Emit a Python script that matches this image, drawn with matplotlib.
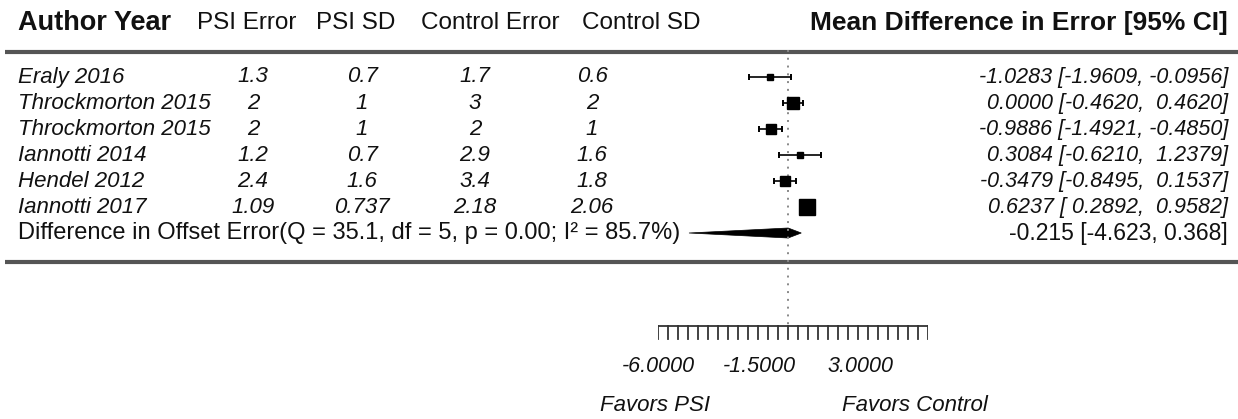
import matplotlib.pyplot as plt
import numpy as np

# ---------------- data ----------------
studies = ['Eraly 2016', 'Throckmorton 2015', 'Throckmorton 2015',
           'Iannotti 2014', 'Hendel 2012', 'Iannotti 2017']
psi_err = ['1.3', '2', '2', '1.2', '2.4', '1.09']
psi_sd = ['0.7', '1', '1', '0.7', '1.6', '0.737']
ctl_err = ['1.7', '3', '2', '2.9', '3.4', '2.18']
ctl_sd = ['0.6', '2', '1', '1.6', '1.8', '2.06']
md = [-1.0283, 0.0000, -0.9886, 0.3084, -0.3479, 0.6237]
ci_lo = [-1.9609, -0.4620, -1.4921, -0.6210, -0.8495, 0.2892]
ci_hi = [-0.0956, 0.4620, -0.4850, 1.2379, 0.1537, 0.9582]
pooled = -0.215
pooled_lo = -4.623
pooled_hi = 0.368
summary_label = 'Difference in Offset Error(Q = 35.1, df = 5, p = 0.00; I\u00b2 = 85.7%)'
xticklabels = [-6.0, -1.5, 3.0]

plt.rcParams['font.family'] = ['Liberation Sans', 'DejaVu Sans']
plt.rcParams['text.color'] = '#111111'

W, H = 1238, 419
fig = plt.figure(figsize=(W / 100, H / 100), dpi=100)

# text layer in pixel coordinates
tx = fig.add_axes([0, 0, 1, 1])
tx.set_xlim(0, W)
tx.set_ylim(H, 0)
tx.axis('off')

# forest layer: x in data units, y in pixel rows
ax_l, ax_r = 658, 928   # pixel span of -6 .. 6
ax = fig.add_axes([ax_l / W, 0, (ax_r - ax_l) / W, 1])
ax.set_xlim(-6, 6)
ax.set_ylim(H, 0)
ax.axis('off')

row0, dy = 77, 26
rows = row0 + dy * np.arange(len(studies))
y_sum = row0 + dy * len(studies)
fs = 16

# header
tx.text(18, 23, 'Author Year', fontsize=19.5, fontweight='bold', va='center')
for x, s in [(197, 'PSI Error'), (316, 'PSI SD'), (421, 'Control Error'), (582, 'Control SD')]:
    tx.text(x, 23, s, fontsize=17.5, va='center')
tx.text(1228, 23, 'Mean Difference in Error [95% CI]', fontsize=19,
        fontweight='bold', va='center', ha='right')

# separators
tx.plot([5, W], [52, 52], color='#555555', lw=3, solid_capstyle='butt')
tx.plot([5, W], [262, 262], color='#555555', lw=3, solid_capstyle='butt')

# study rows
col_x = [253, 362, 475, 592]
for i, y in enumerate(rows):
    tx.text(18, y, studies[i], fontsize=fs, style='italic', va='center')
    for cx, col in zip(col_x, [psi_err, psi_sd, ctl_err, ctl_sd]):
        tx.text(cx, y, col[i], fontsize=fs, style='italic', va='center', ha='center')
    lab = '{:.4f} [{:7.4f}, {:7.4f}]'.format(md[i], ci_lo[i], ci_hi[i])
    tx.text(1228, y, lab, fontsize=15.5, style='italic', va='center', ha='right')

tx.text(18, y_sum, summary_label, fontsize=17, va='center')
tx.text(1228, y_sum, '{:.3f} [{:.3f}, {:.3f}]'.format(pooled, pooled_lo, pooled_hi),
        fontsize=16.5, va='center', ha='right')

# reference line at pooled estimate
ax.plot([pooled, pooled], [50, 326], color='#888888', lw=1.4, ls=(0, (1, 3)))

# study estimates, squares sized by inverse variance
se = (np.array(ci_hi) - np.array(ci_lo)) / 3.92
w = 1 / se ** 2
msize = 11.8 * np.sqrt(w / w.max())
for i, y in enumerate(rows):
    ax.plot([ci_lo[i], ci_hi[i]], [y, y], color='black', lw=1.2)
    ax.plot([ci_lo[i], ci_hi[i]], [y, y], ls='none', marker='|', ms=4,
            mew=1.4, color='black')
    ax.plot(md[i], y, marker='s', ms=msize[i], color='black', mec='black')

# pooled diamond
ax.fill([pooled_lo, pooled, pooled_hi, pooled],
        [y_sum, y_sum - 5, y_sum, y_sum + 5], color='black', lw=0.5)

# x axis
ax.plot([-6, 6], [326, 326], color='#333333', lw=1.3)
for t in np.linspace(-6, 6, 28):
    ax.plot([t, t], [326, 339], color='#333333', lw=1.3)
for t in xticklabels:
    ax.text(t, 366, '{:.4f}'.format(t), fontsize=15.5, style='italic',
            ha='center', va='center')

tx.text(655, 405, 'Favors PSI', fontsize=16, style='italic', ha='center', va='center')
tx.text(915, 405, 'Favors Control', fontsize=16, style='italic', ha='center', va='center')

fig.savefig('out.png', dpi=100)
